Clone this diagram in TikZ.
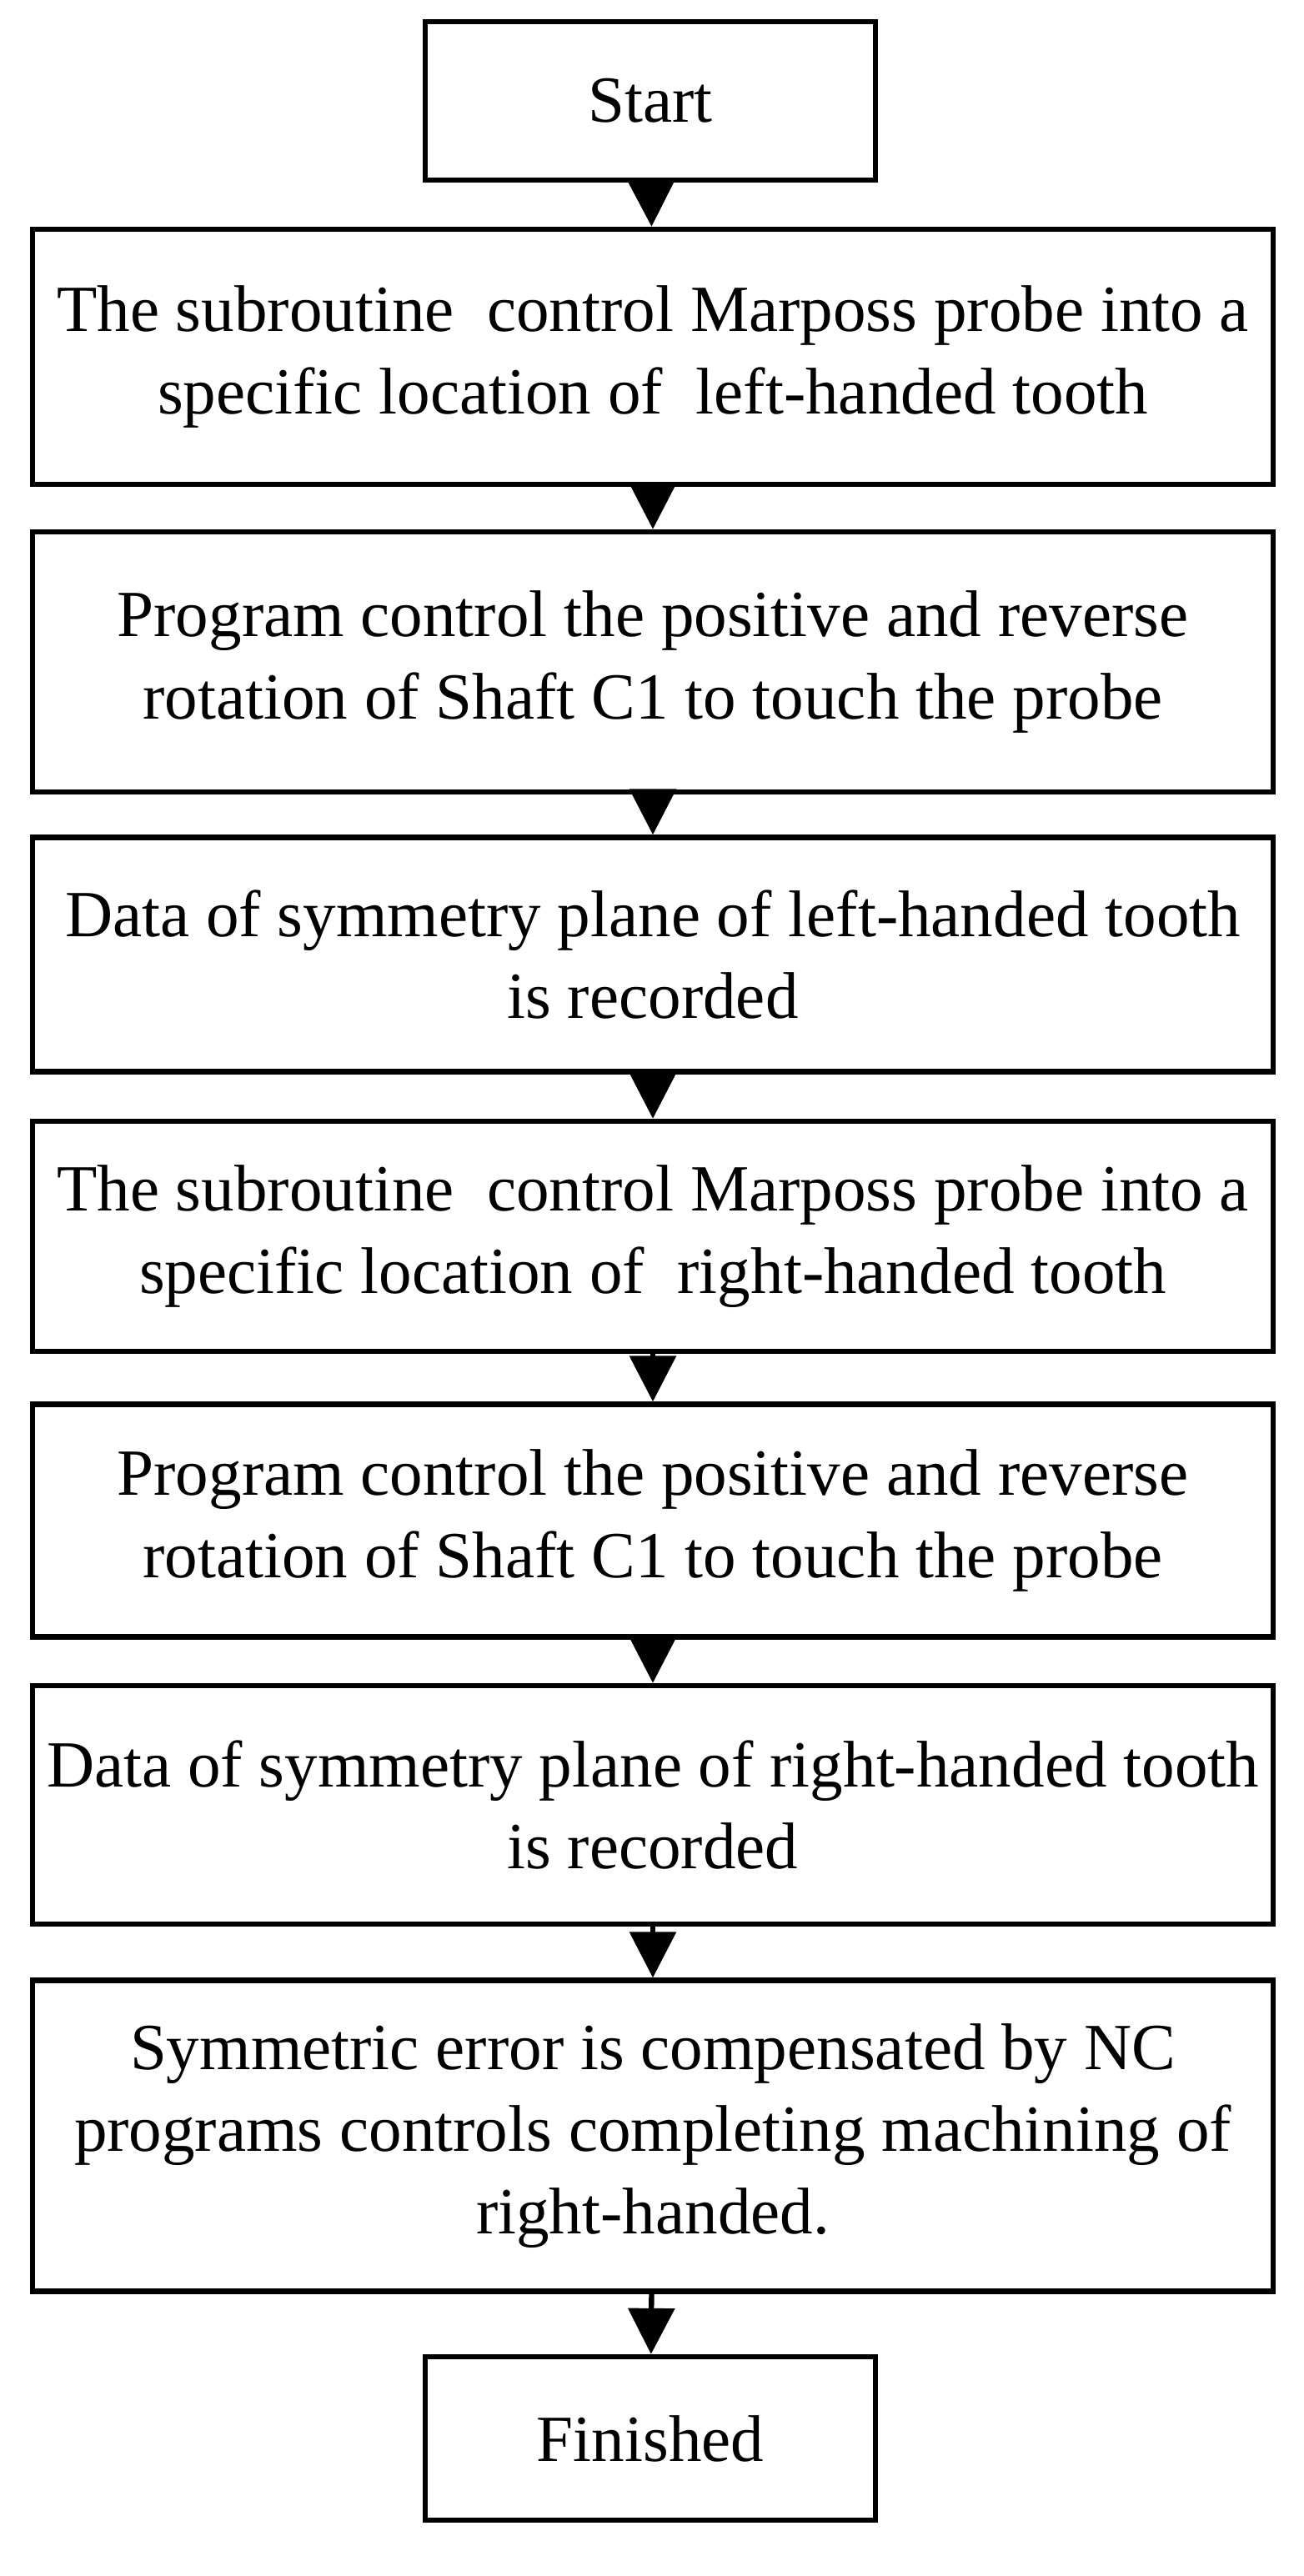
\documentclass[tikz,border=0pt]{standalone}
\usepackage{fontspec}
\setmainfont{Liberation Serif}
\usetikzlibrary{arrows.meta}

\begin{document}
\begin{tikzpicture}[
		stage/.style={draw=black,line width=1.8pt,align=center,font=\fontsize{22.5}{28}\selectfont,inner sep=0pt},
		flow/.style={-{Triangle[length=0.55cm,width=0.55cm]},line width=1.8pt}]
		\useasboundingbox (0,0) rectangle (15.63,-30.9);
		
		\node[stage,minimum width=5.4cm,minimum height=1.9cm] (start) at (7.8,-1.21){Start};
		\node[stage,minimum width=14.88cm,minimum height=3.06cm] (sub1) at (7.83,-4.28){The subroutine\ \ control Marposs probe into a\\specific location of\ \ left-handed tooth};
		\node[stage,minimum width=14.88cm,minimum height=3.12cm] (rot1) at (7.83,-7.94){Program control the positive and reverse\\rotation of Shaft C1 to touch the probe};
		\node[stage,minimum width=14.88cm,minimum height=2.81cm] (rec1) at (7.83,-11.45){Data of symmetry plane of left-handed tooth\\is recorded};
		
		\node[stage,minimum width=14.88cm,minimum height=2.76cm] (sub2) at (7.83,-14.83){The subroutine\ \ control Marposs probe into a\\specific location of\ \ right-handed tooth};
		\node[stage,minimum width=14.88cm,minimum height=2.79cm] (rot2) at (7.83,-18.24){Program control the positive and reverse\\rotation of Shaft C1 to touch the probe};
		\node[stage,minimum width=14.88cm,minimum height=2.86cm] (rec2) at (7.83,-21.65){Data of symmetry plane of right-handed tooth\\is recorded};
		
		\node[stage,minimum width=14.88cm,minimum height=3.73cm] (comp) at (7.83,-25.62){Symmetric error is compensated by NC\\programs controls completing machining of\\right-handed.};
		\node[stage,minimum width=5.4cm,minimum height=1.96cm] (finish) at (7.8,-29.25){Finished};
		
		\draw[flow] (start) -- (sub1);
		\draw[flow] (sub1) -- (rot1);
		\draw[flow] (rot1) -- (rec1);
		\draw[flow] (rec1) -- (sub2);
		\draw[flow] (sub2) -- (rot2);
		\draw[flow] (rot2) -- (rec2);
		\draw[flow] (rec2) -- (comp);
		\draw[flow] (comp) -- (finish);
	\end{tikzpicture}
\end{document}
